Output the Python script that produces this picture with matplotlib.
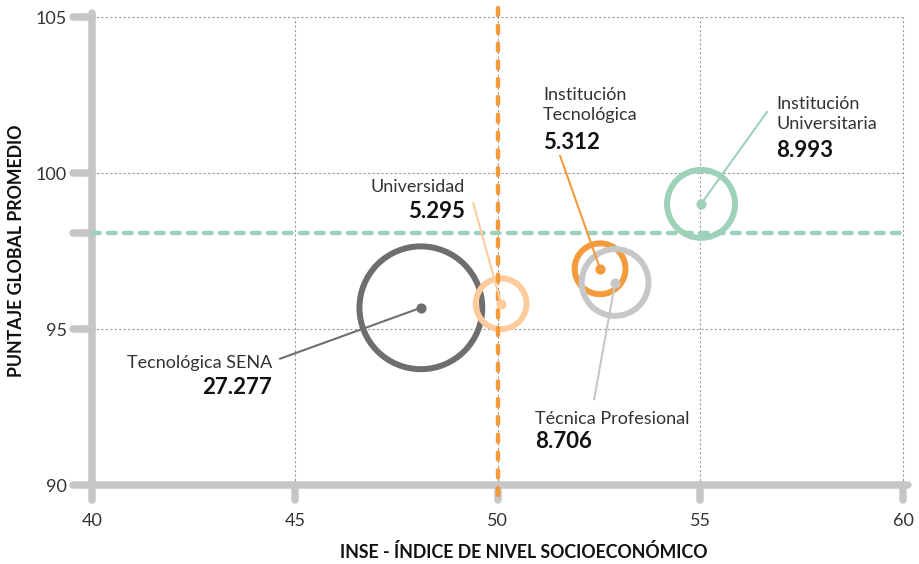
import matplotlib
matplotlib.use('Agg')
import matplotlib.pyplot as plt
import numpy as np

# datos
tipos = ['Tecnológica SENA', 'Universidad', 'Institución\nTecnológica',
         'Técnica Profesional', 'Institución\nUniversitaria']
inse = [48.11, 50.09, 52.53, 52.90, 55.02]
puntaje = [95.68, 95.81, 96.93, 96.49, 99.01]
estudiantes = [27277, 5295, 5312, 8706, 8993]
etiquetas_n = ['27.277', '5.295', '5.312', '8.706', '8.993']
colores = ['#6e6e6e', '#fdcb9c', '#f39a3b', '#c7c7c7', '#9dd2b9']

inse_ref = 50.0       # linea vertical naranja
puntaje_ref = 98.07   # linea horizontal verde

x_ticks = [40, 45, 50, 55, 60]
y_ticks = [90, 95, 100, 105]

# posicion de los textos (px respecto al punto): linea, nombre, numero, alineacion
textos = [
    ((-141, 51), (-149, 55), (-149, 80), 'right'),
    ((-28, -101), (-36, -117), (-36, -92), 'right'),
    ((-40, -113), (-57, -164), (-57, -126), 'left'),
    ((-21, 117), (-80, 136), (-80, 159), 'left'),
    ((66, -92), (75, -90), (75, -53), 'left'),
]

PX = 0.72  # puntos por pixel a dpi 100
EJE = '#c6c6c6'
FUENTE = 'Lato'


def pt(off):
    return (off[0] * PX, -off[1] * PX)


fig = plt.figure(figsize=(9.19, 5.64), dpi=100)
ax = fig.add_axes([92 / 919, 1 - 485 / 564, 811 / 919, 468 / 564])
ax.set_xlim(40, 60)
ax.set_ylim(90, 105)
ax.set_axisbelow(True)
for s in ax.spines.values():
    s.set_visible(False)

# rejilla punteada
ax.set_xticks(x_ticks)
ax.set_yticks(y_ticks)
ax.grid(True, color='#9a9a9a', linestyle=(0, (2, 2)), linewidth=0.8)
for g in ax.get_xgridlines() + ax.get_ygridlines():
    g.set_clip_on(False)
ax.tick_params(axis='both', length=0, labelsize=13, colors='#333333')
ax.tick_params(axis='y', pad=18)
ax.tick_params(axis='x', pad=20)
for lab in ax.get_xticklabels() + ax.get_yticklabels():
    lab.set_fontfamily(FUENTE)

# ejes gruesos con puntas redondeadas
dx = 19 / 40.55
dy = 15 / 31.2
ax.plot([40, 40], [105.13, 90 - dy], color=EJE, lw=5.4, solid_capstyle='round',
        clip_on=False, zorder=1)
ax.plot([40 - dx, 60.12], [90, 90], color=EJE, lw=5.4, solid_capstyle='round',
        clip_on=False, zorder=1)
for t in x_ticks[1:]:
    ax.plot([t, t], [90, 90 - dy], color=EJE, lw=5.4, solid_capstyle='round',
            clip_on=False, zorder=1)
for t in y_ticks[1:] + [puntaje_ref]:
    ax.plot([40, 40 - dx], [t, t], color=EJE, lw=5.4, solid_capstyle='round',
            clip_on=False, zorder=1)

# lineas de referencia
ax.plot([40, 60], [puntaje_ref, puntaje_ref], color='#9dd2b9', lw=3.2,
        dashes=(1.7, 1.9), dash_capstyle='round', clip_on=False, zorder=2)
ax.plot([inse_ref, inse_ref], [105.3, 89.5], color='#f39a3b', lw=3.2,
        dashes=(1.6, 2.4), dash_capstyle='round', clip_on=False, zorder=6)

# burbujas
for i in range(len(tipos)):
    r = 0.39 * np.sqrt(estudiantes[i]) - 3
    ax.scatter(inse[i], puntaje[i], s=(2 * r * PX) ** 2, facecolors='none',
               edgecolors=colores[i], linewidths=4.3, zorder=3 + i * 0.1)

for i in range(len(tipos)):
    linea, nombre, numero, ha = textos[i]
    c = colores[i]
    ax.scatter(inse[i], puntaje[i], s=40, color=c, zorder=7)
    ax.annotate('', xy=(inse[i], puntaje[i]), xytext=pt(linea),
                textcoords='offset points',
                arrowprops=dict(arrowstyle='-', color=c, lw=1.5,
                                shrinkA=0, shrinkB=0), zorder=7)
    ax.annotate(tipos[i], xy=(inse[i], puntaje[i]), xytext=pt(nombre),
                textcoords='offset points', ha=ha, va='center', fontsize=13,
                fontfamily=FUENTE, color='#333333', linespacing=1.3, zorder=8)
    ax.annotate(etiquetas_n[i], xy=(inse[i], puntaje[i]), xytext=pt(numero),
                textcoords='offset points', ha=ha, va='center', fontsize=16,
                fontfamily=FUENTE, fontweight='bold', color='#111111', zorder=8)

fig.text(17 / 919, 1 - 251 / 564, 'PUNTAJE GLOBAL PROMEDIO', rotation=90,
         ha='center', va='center', fontsize=12.8, fontweight='bold',
         fontfamily=FUENTE, color='#111111')
fig.text(524 / 919, 1 - 552 / 564, 'INSE - ÍNDICE DE NIVEL SOCIOECONÓMICO',
         ha='center', va='center', fontsize=12.8, fontweight='bold',
         fontfamily=FUENTE, color='#111111')

fig.savefig('out.png', dpi=100)
